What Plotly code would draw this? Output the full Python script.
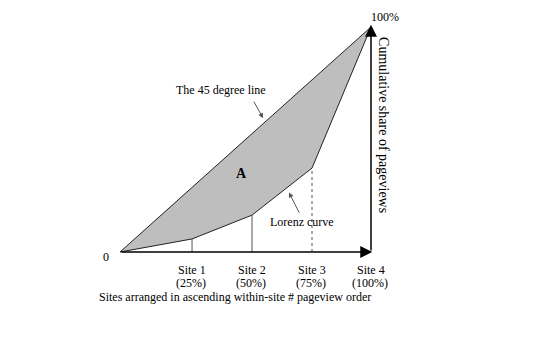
import plotly.graph_objects as go

# Data
share_sites = [0, 28.7, 52.6, 76.5, 100]          # cumulative share of sites (drawn position)
lorenz_share = [0, 5.8, 16.4, 37.3, 100]           # cumulative share of pageviews
diag_x = [0, 100]
diag_y = [0, 100]
site_names = ["Site 1", "Site 2", "Site 3", "Site 4"]
site_pcts = ["(25%)", "(50%)", "(75%)", "(100%)"]
drop_styles = ["solid", "solid", "dot"]

FONT = "Liberation Serif, Times New Roman, serif"

fig = go.Figure()

# shaded area between 45-degree line and Lorenz curve
poly_x = diag_x + share_sites[::-1]
poly_y = diag_y + lorenz_share[::-1]
fig.add_trace(go.Scatter(x=poly_x, y=poly_y, fill="toself", mode="none",
                         fillcolor="#c8c8c8",
                         fillpattern=dict(shape=".", bgcolor="#cccccc", fgcolor="#8c8c8c",
                                          size=2, solidity=0.5),
                         hoverinfo="skip", showlegend=False))
# 45 degree line
fig.add_trace(go.Scatter(x=diag_x, y=diag_y, mode="lines",
                         line=dict(color="#222", width=1), showlegend=False))
# Lorenz curve
fig.add_trace(go.Scatter(x=share_sites, y=lorenz_share, mode="lines",
                         line=dict(color="#222", width=1), showlegend=False))
# drop lines
for xv, yv, ds in zip(share_sites[1:4], lorenz_share[1:4], drop_styles):
    fig.add_trace(go.Scatter(x=[xv, xv], y=[0, yv], mode="lines",
                             line=dict(color="#555", width=1, dash=ds), showlegend=False))

ann = []
# axes arrows
ann.append(dict(x=share_sites[-1] + 0.5, y=0, ax=0, ay=0, axref="x", ayref="y", xref="x", yref="y",
                showarrow=True, arrowhead=2, arrowsize=1.6, arrowwidth=1.5, arrowcolor="#000", text=""))
ann.append(dict(x=share_sites[-1], y=lorenz_share[-1] + 1, ax=share_sites[-1], ay=0, axref="x", ayref="y",
                xref="x", yref="y", showarrow=True, arrowhead=2, arrowsize=1.6, arrowwidth=1.5,
                arrowcolor="#000", text=""))

# site labels
for xv, nm, pc in zip(share_sites[1:], site_names, site_pcts):
    ann.append(dict(x=xv, y=-8, xref="x", yref="y", text=nm, showarrow=False,
                    font=dict(family=FONT, size=12, color="#000")))
    ann.append(dict(x=xv - 0.5, y=-13.8, xref="x", yref="y", text=pc, showarrow=False,
                    font=dict(family=FONT, size=12, color="#000")))

ann.append(dict(x=-5.6, y=-2.2, xref="x", yref="y", text="0", showarrow=False,
                font=dict(family=FONT, size=12, color="#000")))
ann.append(dict(x=105.5, y=104.6, xref="x", yref="y", text="100%", showarrow=False,
                font=dict(family=FONT, size=12, color="#000")))
ann.append(dict(x=105.2, y=56.4, xref="x", yref="y", text="Cumulative share of pageviews",
                textangle=90, showarrow=False, font=dict(family=FONT, size=14, color="#000")))
ann.append(dict(x=40.2, y=72, xref="x", yref="y", text="The 45 degree line", showarrow=False,
                font=dict(family=FONT, size=12, color="#000")))
ann.append(dict(x=57, y=59.5, ax=53, ay=67.5, axref="x", ayref="y", xref="x", yref="y",
                text="", showarrow=True, arrowhead=2, arrowsize=1, arrowwidth=1, arrowcolor="#555"))
ann.append(dict(x=48.6, y=35, xref="x", yref="y", text="<b>A</b>", showarrow=False,
                font=dict(family=FONT, size=14, color="#000")))
ann.append(dict(x=72.5, y=13.4, xref="x", yref="y", text="Lorenz curve", showarrow=False,
                font=dict(family=FONT, size=12, color="#000")))
ann.append(dict(x=67.3, y=26.5, ax=71.7, ay=16.8, axref="x", ayref="y", xref="x", yref="y",
                text="", showarrow=True, arrowhead=2, arrowsize=1, arrowwidth=1, arrowcolor="#555"))
ann.append(dict(x=-9.2, y=-20.2, xref="x", yref="y", xanchor="left",
                text="Sites arranged in ascending within-site # pageview order", showarrow=False,
                font=dict(family=FONT, size=12, color="#000")))

px_per_x = 251 / 100.0
px_per_y = 225 / 100.0
fig.update_layout(
    width=553, height=338, margin=dict(l=0, r=0, t=0, b=0),
    paper_bgcolor="white", plot_bgcolor="white",
    xaxis=dict(range=[-120 / px_per_x, (553 - 120) / px_per_x], visible=False, fixedrange=True),
    yaxis=dict(range=[-(338 - 252) / px_per_y, 252 / px_per_y], visible=False, fixedrange=True),
    annotations=ann, showlegend=False,
)
fig.write_html("out.html")
